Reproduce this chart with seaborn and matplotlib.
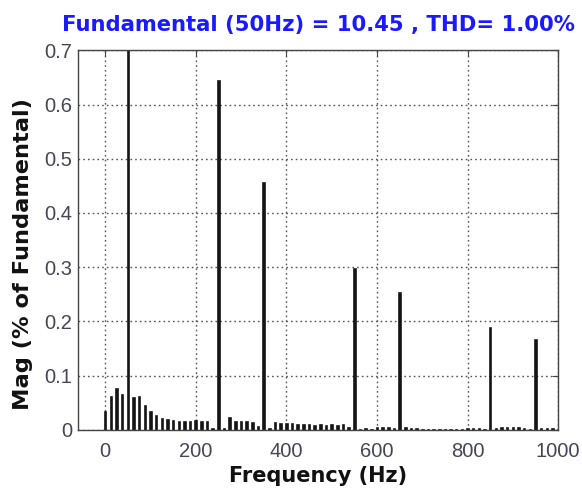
import matplotlib
matplotlib.use("Agg")
import matplotlib.pyplot as plt
import seaborn as sns
import pandas as pd

# Spectrum bins (Hz), 12.5 Hz resolution
freq_hz = [
    0, 12.5, 25, 37.5, 50, 62.5, 75, 87.5, 100, 112.5,
    125, 137.5, 150, 162.5, 175, 187.5, 200, 212.5, 225, 237.5,
    250, 262.5, 275, 287.5, 300, 312.5, 325, 337.5, 350, 362.5,
    375, 387.5, 400, 412.5, 425, 437.5, 450, 462.5, 475, 487.5,
    500, 512.5, 525, 537.5, 550, 562.5, 575, 587.5, 600, 612.5,
    625, 637.5, 650, 662.5, 675, 687.5, 700, 712.5, 725, 737.5,
    750, 762.5, 775, 787.5, 800, 812.5, 825, 837.5, 850, 862.5,
    875, 887.5, 900, 912.5, 925, 937.5, 950, 962.5, 975, 987.5,
    1000,
]

# Magnitude of each bin, % of fundamental
mag_pct = [
    0.035, 0.062, 0.077, 0.066, 100.0, 0.061, 0.063, 0.046, 0.034, 0.028,
    0.022, 0.020, 0.018, 0.017, 0.017, 0.016, 0.018, 0.017, 0.016, 0.003,
    0.645, 0.003, 0.024, 0.017, 0.017, 0.016, 0.015, 0.007, 0.458, 0.003,
    0.014, 0.013, 0.013, 0.012, 0.011, 0.011, 0.011, 0.010, 0.011, 0.010,
    0.011, 0.010, 0.011, 0.006, 0.298, 0.002, 0.003, 0.002, 0.005, 0.005,
    0.005, 0.003, 0.254, 0.005, 0.004, 0.003, 0.002, 0.002, 0.002, 0.002,
    0.002, 0.002, 0.002, 0.002, 0.004, 0.003, 0.004, 0.002, 0.190, 0.003,
    0.005, 0.005, 0.005, 0.005, 0.004, 0.002, 0.168, 0.004, 0.004, 0.003,
    0.002,
]

x_ticks = [0, 200, 400, 600, 800, 1000]
y_ticks = [0, 0.1, 0.2, 0.3, 0.4, 0.5, 0.6, 0.7]

title_text = "Fundamental (50Hz) = 10.45 , THD= 1.00%"
x_label = "Frequency (Hz)"
y_label = "Mag (% of Fundamental)"

sns.set_theme(style="white")
plt.rcParams["font.family"] = ["Liberation Sans", "DejaVu Sans"]

df = pd.DataFrame({"freq": freq_hz, "mag": mag_pct})

fig = plt.figure(figsize=(5.82, 4.88), dpi=100)
ax = fig.add_axes([0.134, 0.119, 0.825, 0.778])

sns.barplot(data=df, x="freq", y="mag", native_scale=True, width=0.45,
            color="#151515", saturation=1, edgecolor="#000000",
            linewidth=0.4, ax=ax)

ax.set_xlim(-60, 1000)
ax.set_ylim(0, 0.7)
ax.set_xticks(x_ticks)
ax.set_xticklabels([str(t) for t in x_ticks])
ax.set_yticks(y_ticks)
ax.set_yticklabels(["0"] + [f"{t:.1f}" for t in y_ticks[1:]])

ax.set_axisbelow(True)
ax.grid(True, color="#555555", linestyle=(0, (1.2, 2.2)), linewidth=1.0)

for sp in ax.spines.values():
    sp.set_color("#444444")
    sp.set_linewidth(1.0)

ax.tick_params(direction="in", top=True, right=True, length=4, width=0.8,
               color="#444444", labelsize=14.5, labelcolor="#45455a")
ax.tick_params(axis="x", pad=9)
ax.tick_params(axis="y", pad=4)

bold_font = ["DejaVu Sans"]
ax.set_title(title_text, color="#1a1aff", fontsize=15.2, fontweight="bold",
             family=bold_font, pad=14)
ax.set_xlabel(x_label, fontsize=15, fontweight="bold", color="#111111",
              family=bold_font, labelpad=3)
ax.set_ylabel(y_label, fontsize=16.2, fontweight="bold", color="#111111",
              family=bold_font, labelpad=5)
ax.yaxis.set_label_coords(-0.094, 0.463)

fig.savefig("out.png", dpi=100)
